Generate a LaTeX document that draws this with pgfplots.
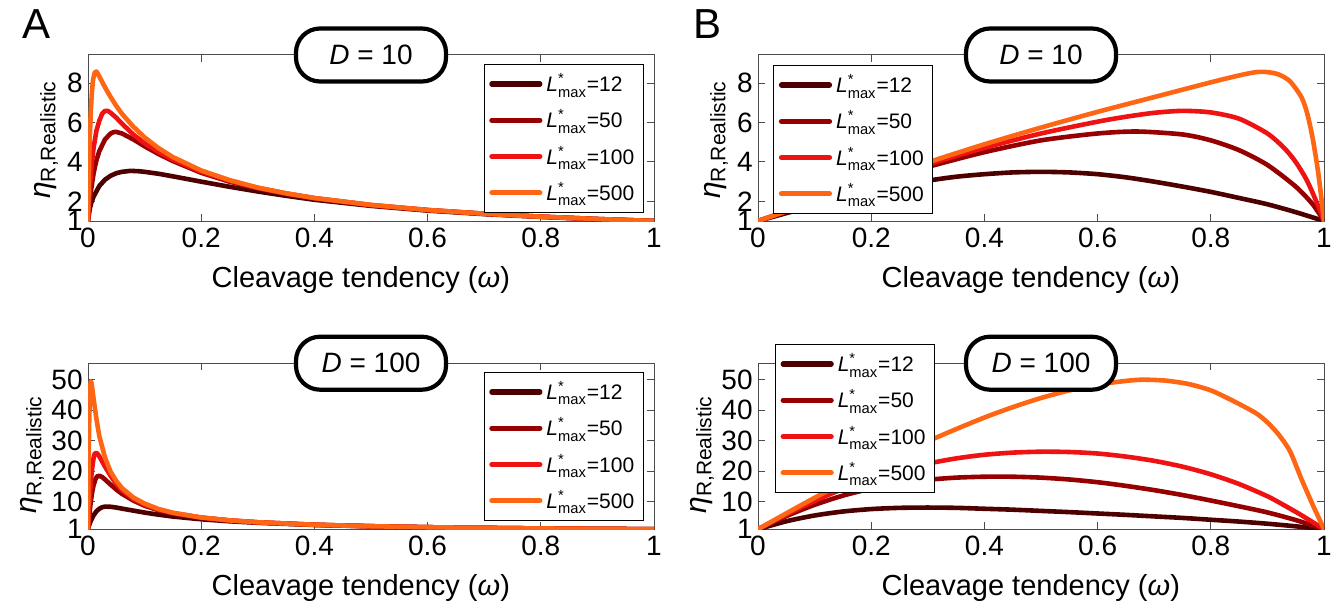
\documentclass[border=0pt]{standalone}
\usepackage{amsmath}
\usepackage{fontspec}
\setmainfont{Liberation Sans}
\usepackage{pgfplots}
\pgfplotsset{compat=1.18}

\definecolor{cA}{RGB}{77,0,0}
\definecolor{cB}{RGB}{150,0,0}
\definecolor{cC}{RGB}{238,18,18}
\definecolor{cD}{RGB}{255,102,20}

\pgfplotsset{
 panel/.style={
  scale only axis, width=283pt, height=83pt,
  xmin=0, xmax=1,
  xtick={0,0.2,0.4,0.6,0.8,1},
  xticklabels={0,0.2,0.4,0.6,0.8,1},
  tick align=inside, major tick length=3.5pt,
  axis line style={black!70, line width=0.5pt},
  every tick/.style={black!70, line width=0.5pt},
  ticklabel style={font=\fontsize{14}{16}\selectfont},
  yticklabel style={inner sep=2.5pt},
  /pgf/number format/assume math mode=true,
  xlabel={Cleavage tendency (\textit{ω})},
  xlabel style={font=\fontsize{14.5}{17}\selectfont, at={(axis description cs:0.482,-0.355)}, anchor=center},
  ylabel={\textit{η}\textsubscript{R,Realistic}},
  ylabel style={font=\fontsize{15}{17}\selectfont, anchor=center},
  legend style={draw=black, line width=0.6pt, fill=white,
    font=\fontsize{10.5}{12}\selectfont,
    inner xsep=2.5pt, inner ysep=2.5pt, row sep=3.6pt,
    cells={anchor=west}},
  legend image code/.code={\draw[#1, line width=2.6pt] (0pt,0pt) -- (24pt,0pt);},
  every axis plot/.append style={line width=2.3pt, line join=round, line cap=round},
 },
 topp/.style={ymin=1, ymax=9.44, ytick={1,2,4,6,8},
  ylabel style={at={(axis description cs:-0.074,0.49)}}},
 botp/.style={ymin=1, ymax=55.4, ytick={1,10,20,30,40,50},
  ylabel style={at={(axis description cs:-0.099,0.45)}}},
 smoothp/.style={every axis plot/.append style={smooth, tension=0.45}},
}
\newcommand{\Lm}[1]{\textit{L}$^{\text{*}}_{\text{max}}$=#1}

\begin{document}
\begin{tikzpicture}
\path[use as bounding box] (0,0) rectangle (668pt,303.5pt);

% ---------------- A top (D=10)
\begin{axis}[panel, topp, name=a1, at={(44pt,193pt)}, anchor=south west,
  legend style={at={(rel axis cs:0.982,0.946)}, anchor=north east}]
\addplot[cA] coordinates {(0,1) (0.003,1.6) (0.006,1.95) (0.01,2.25) (0.02,2.78) (0.03,3.1) (0.04,3.3) (0.05,3.43) (0.06,3.5) (0.075,3.55) (0.09,3.53) (0.1,3.5) (0.125,3.4) (0.15,3.27) (0.2,3.0) (0.25,2.74) (0.3,2.5) (0.35,2.28) (0.4,2.08) (0.5,1.77) (0.6,1.53) (0.7,1.35) (0.8,1.21) (0.9,1.09) (1,1)};
\addplot[cB] coordinates {(0,1) (0.002,1.7) (0.005,2.5) (0.01,3.45) (0.015,4.1) (0.02,4.55) (0.03,5.15) (0.04,5.45) (0.045,5.52) (0.05,5.53) (0.06,5.45) (0.08,5.15) (0.1,4.8) (0.125,4.4) (0.15,4.05) (0.2,3.45) (0.25,3.0) (0.3,2.66) (0.35,2.38) (0.4,2.15) (0.5,1.8) (0.6,1.55) (0.7,1.37) (0.8,1.22) (0.9,1.1) (1,1)};
\addplot[cC] coordinates {(0,1) (0.002,2.1) (0.004,3.0) (0.007,4.0) (0.01,4.75) (0.015,5.6) (0.02,6.1) (0.025,6.45) (0.03,6.6) (0.035,6.6) (0.04,6.5) (0.05,6.25) (0.06,5.95) (0.08,5.4) (0.1,4.95) (0.125,4.5) (0.15,4.12) (0.2,3.5) (0.25,3.04) (0.3,2.68) (0.35,2.4) (0.4,2.16) (0.5,1.81) (0.6,1.56) (0.7,1.37) (0.8,1.22) (0.9,1.1) (1,1)};
\addplot[cD] coordinates {(0,1) (0.001,2.6) (0.002,4.0) (0.003,5.1) (0.005,6.6) (0.007,7.6) (0.009,8.2) (0.012,8.55) (0.015,8.6) (0.02,8.35) (0.03,7.8) (0.04,7.3) (0.05,6.85) (0.06,6.45) (0.08,5.8) (0.1,5.25) (0.125,4.7) (0.15,4.25) (0.2,3.57) (0.25,3.08) (0.3,2.7) (0.35,2.41) (0.4,2.17) (0.5,1.82) (0.6,1.56) (0.7,1.37) (0.8,1.22) (0.9,1.1) (1,1)};
\legend{\Lm{12},\Lm{50},\Lm{100},\Lm{500}}
\end{axis}
\node[draw, line width=2.1pt, rounded corners=12pt, fill=white, minimum width=75pt, minimum height=26.5pt, font=\fontsize{14}{16}\selectfont] at (a1.north) {\textit{D} = 10};

% ---------------- B top (D=10)
\begin{axis}[panel, topp, smoothp, name=b1, at={(379pt,193pt)}, anchor=south west,
  legend style={at={(rel axis cs:0.027,0.94)}, anchor=north west}]
\addplot[cA] coordinates {(0,1) (0.05,1.4) (0.1,1.78) (0.15,2.12) (0.2,2.45) (0.25,2.78) (0.3,3.05) (0.35,3.25) (0.4,3.38) (0.45,3.47) (0.5,3.5) (0.55,3.47) (0.6,3.38) (0.65,3.22) (0.7,3.0) (0.75,2.75) (0.8,2.48) (0.85,2.17) (0.9,1.85) (0.95,1.45) (1,1)};
\addplot[cB] coordinates {(0,1) (0.1,1.96) (0.2,2.9) (0.3,3.75) (0.4,4.5) (0.5,5.1) (0.6,5.45) (0.67,5.55) (0.75,5.4) (0.8,5.1) (0.85,4.6) (0.9,3.85) (0.95,2.75) (0.98,1.85) (1,1)};
\addplot[cC] coordinates {(0,1) (0.1,1.98) (0.2,2.95) (0.3,3.88) (0.4,4.72) (0.5,5.45) (0.6,6.05) (0.65,6.3) (0.7,6.5) (0.75,6.6) (0.8,6.52) (0.85,6.2) (0.9,5.45) (0.93,4.7) (0.95,4.0) (0.97,3.05) (0.99,1.75) (1,1)};
\addplot[cD] coordinates {(0,1) (0.1,2.0) (0.2,3.0) (0.3,3.98) (0.4,4.9) (0.5,5.75) (0.6,6.55) (0.7,7.3) (0.8,8.05) (0.85,8.4) (0.88,8.57) (0.9,8.57) (0.92,8.45) (0.94,8.1) (0.96,7.3) (0.97,6.5) (0.98,5.2) (0.99,3.4) (1,1)};
\legend{\Lm{12},\Lm{50},\Lm{100},\Lm{500}}
\end{axis}
\node[draw, line width=2.1pt, rounded corners=12pt, fill=white, minimum width=75pt, minimum height=26.5pt, font=\fontsize{14}{16}\selectfont] at (b1.north) {\textit{D} = 10};

% ---------------- A bottom (D=100)
\begin{axis}[panel, botp, name=a2, at={(44pt,38.9pt)}, anchor=south west,
  legend style={at={(rel axis cs:0.982,0.948)}, anchor=north east}]
\addplot[cA] coordinates {(0,1) (0.002,2.3) (0.005,3.8) (0.01,5.6) (0.015,6.9) (0.02,7.7) (0.025,8.2) (0.03,8.4) (0.04,8.35) (0.05,8.1) (0.06,7.75) (0.08,7.1) (0.1,6.45) (0.125,5.75) (0.15,5.15) (0.2,4.25) (0.25,3.6) (0.3,3.1) (0.4,2.4) (0.5,1.95) (0.6,1.64) (0.7,1.41) (0.8,1.24) (0.9,1.11) (1,1)};
\addplot[cB] coordinates {(0,1) (0.002,5) (0.004,8.5) (0.006,11.5) (0.008,13.8) (0.01,15.5) (0.013,17.3) (0.016,18.3) (0.02,18.5) (0.025,18.1) (0.03,17.3) (0.04,15.6) (0.05,14.0) (0.06,12.6) (0.08,10.4) (0.1,8.7) (0.125,7.2) (0.15,6.15) (0.2,4.75) (0.25,3.85) (0.3,3.25) (0.4,2.45) (0.5,1.97) (0.6,1.65) (0.7,1.42) (0.8,1.25) (0.9,1.11) (1,1)};
\addplot[cC] coordinates {(0,1) (0.002,8) (0.004,14) (0.006,18.5) (0.008,22) (0.01,24.5) (0.012,25.8) (0.015,26) (0.018,25.5) (0.022,24.2) (0.03,21.5) (0.04,18.5) (0.05,15.8) (0.06,13.7) (0.08,10.9) (0.1,9.0) (0.125,7.4) (0.15,6.3) (0.2,4.8) (0.25,3.88) (0.3,3.26) (0.4,2.46) (0.5,1.98) (0.6,1.65) (0.7,1.42) (0.8,1.25) (0.9,1.11) (1,1)};
\addplot[cD] coordinates {(0,1) (0.001,22) (0.002,35) (0.003,43) (0.004,48) (0.005,49.5) (0.006,49) (0.008,46.5) (0.01,43.5) (0.015,37) (0.02,31.5) (0.03,24.5) (0.04,19.8) (0.05,16.8) (0.06,14.5) (0.08,11.4) (0.1,9.4) (0.125,7.6) (0.15,6.4) (0.2,4.85) (0.25,3.9) (0.3,3.27) (0.4,2.47) (0.5,1.98) (0.6,1.65) (0.7,1.42) (0.8,1.25) (0.9,1.11) (1,1)};
\legend{\Lm{12},\Lm{50},\Lm{100},\Lm{500}}
\end{axis}
\node[draw, line width=2.1pt, rounded corners=12pt, fill=white, minimum width=75pt, minimum height=26.5pt, font=\fontsize{14}{16}\selectfont] at (a2.north) {\textit{D} = 100};

% ---------------- B bottom (D=100)
\begin{axis}[panel, botp, smoothp, name=b2, at={(379pt,38.9pt)}, anchor=south west,
  legend style={at={(rel axis cs:0.03,1.116)}, anchor=north west}]
\addplot[cA] coordinates {(0,1) (0.05,3.6) (0.1,5.5) (0.15,6.8) (0.2,7.6) (0.25,8.0) (0.3,8.1) (0.35,8.0) (0.4,7.7) (0.45,7.4) (0.5,7.0) (0.55,6.6) (0.6,6.15) (0.65,5.7) (0.7,5.2) (0.75,4.7) (0.8,4.1) (0.85,3.5) (0.9,2.8) (0.95,1.95) (1,1)};
\addplot[cB] coordinates {(0,1) (0.05,5.3) (0.1,9.0) (0.15,12.0) (0.2,14.3) (0.25,16.0) (0.3,17.2) (0.35,17.9) (0.4,18.2) (0.45,18.2) (0.5,17.9) (0.55,17.3) (0.6,16.4) (0.65,15.2) (0.7,13.8) (0.75,12.2) (0.8,10.4) (0.85,8.5) (0.9,6.5) (0.95,4.0) (1,1)};
\addplot[cC] coordinates {(0,1) (0.05,5.8) (0.1,10.3) (0.15,14.2) (0.2,17.5) (0.25,20.3) (0.3,22.5) (0.35,24.2) (0.4,25.4) (0.45,26.1) (0.5,26.4) (0.55,26.3) (0.6,25.8) (0.65,24.8) (0.7,23.4) (0.75,21.5) (0.8,19.0) (0.85,15.8) (0.9,11.8) (0.93,8.8) (0.96,5.6) (1,1)};
\addplot[cD] coordinates {(0,1) (0.05,6.2) (0.1,11.3) (0.15,16.2) (0.2,21.0) (0.25,25.5) (0.3,29.8) (0.35,33.8) (0.4,37.6) (0.45,41.0) (0.5,44.0) (0.55,46.5) (0.6,48.4) (0.65,49.6) (0.68,50) (0.72,49.7) (0.76,48.6) (0.8,46.5) (0.84,43.0) (0.88,39.0) (0.9,36.0) (0.92,32.0) (0.94,26.5) (0.96,17.5) (0.98,9.0) (0.99,5.0) (1,1)};
\legend{\Lm{12},\Lm{50},\Lm{100},\Lm{500}}
\end{axis}
\node[draw, line width=2.1pt, rounded corners=12pt, fill=white, minimum width=75pt, minimum height=26.5pt, font=\fontsize{14}{16}\selectfont] at (b2.north) {\textit{D} = 100};

\node[anchor=base west, inner sep=0pt, font=\fontsize{21}{24}\selectfont] at (11pt,284.5pt) {A};
\node[anchor=base west, inner sep=0pt, font=\fontsize{21}{24}\selectfont] at (346.5pt,284.5pt) {B};
\end{tikzpicture}
\end{document}
